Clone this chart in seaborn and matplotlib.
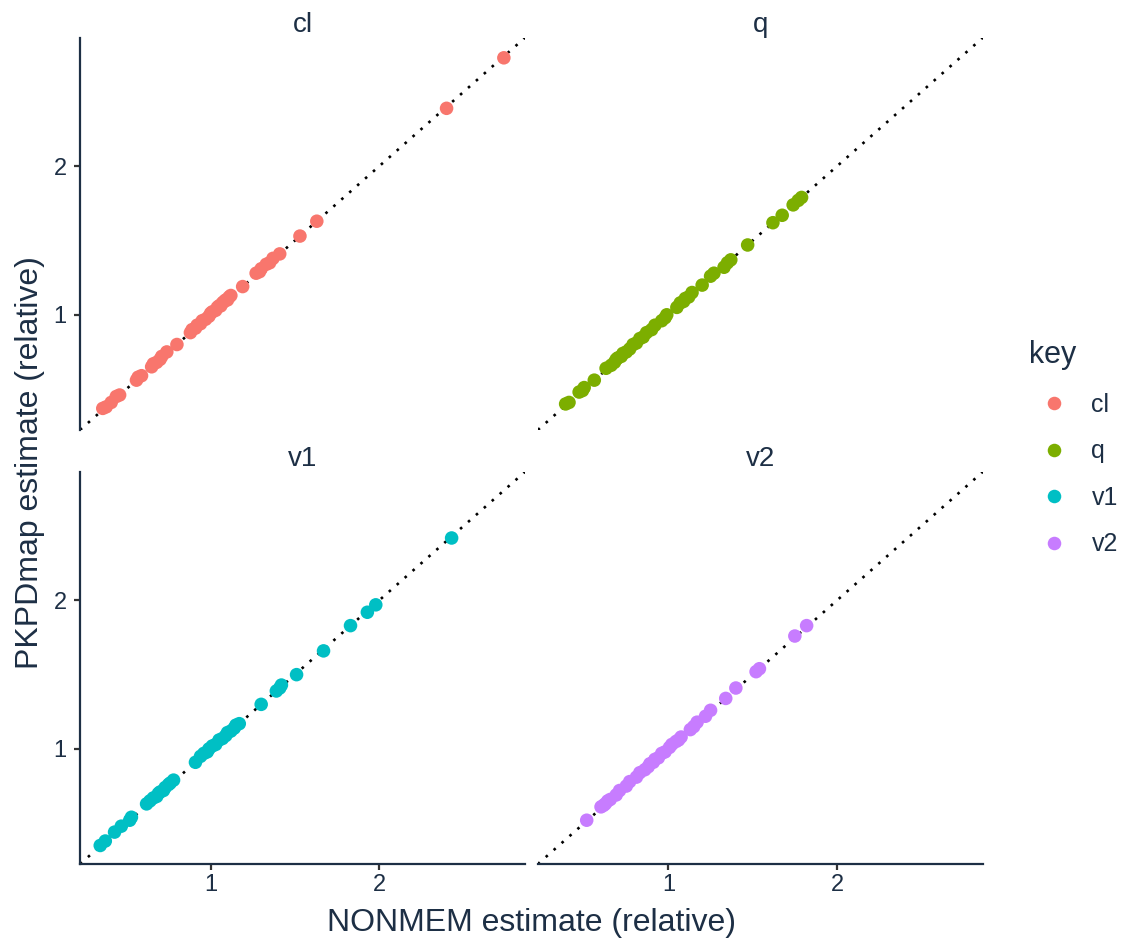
import pandas as pd
import seaborn as sns
import matplotlib.pyplot as plt

# NONMEM vs PKPDmap relative estimates
keys = ['cl', 'q', 'v1', 'v2']
palette = ['#F8766D', '#7CAE00', '#00BFC4', '#C77CFF']

cl_nonmem = [0.36, 0.38, 0.41, 0.44, 0.46, 0.56, 0.57, 0.59, 0.65, 0.66, 0.68, 0.70,
             0.71, 0.74, 0.80, 0.88, 0.89, 0.91, 0.92, 0.94, 0.95, 0.97, 0.99, 1.00,
             1.01, 1.03, 1.04, 1.05, 1.06, 1.07, 1.08, 1.09, 1.10, 1.11, 1.12, 1.19,
             1.27, 1.29, 1.30, 1.33, 1.35, 1.37, 1.41, 1.53, 1.63, 2.40, 2.74]
cl_pkpd = [0.37, 0.38, 0.41, 0.45, 0.46, 0.56, 0.58, 0.59, 0.65, 0.67, 0.68, 0.70,
           0.72, 0.75, 0.80, 0.88, 0.90, 0.91, 0.93, 0.94, 0.96, 0.97, 0.99, 1.01,
           1.02, 1.03, 1.05, 1.06, 1.06, 1.08, 1.09, 1.10, 1.10, 1.12, 1.13, 1.19,
           1.28, 1.29, 1.31, 1.34, 1.35, 1.38, 1.41, 1.53, 1.63, 2.39, 2.73]

q_nonmem = [0.39, 0.41, 0.47, 0.49, 0.50, 0.56, 0.63, 0.66, 0.68, 0.69, 0.70, 0.72,
            0.73, 0.75, 0.77, 0.79, 0.81, 0.83, 0.85, 0.87, 0.90, 0.92, 0.96, 0.98,
            0.99, 1.05, 1.07, 1.09, 1.10, 1.12, 1.14, 1.20, 1.25, 1.27, 1.33, 1.35,
            1.37, 1.47, 1.62, 1.675, 1.74, 1.77, 1.79]
q_pkpd = [0.40, 0.41, 0.48, 0.49, 0.51, 0.56, 0.64, 0.66, 0.68, 0.70, 0.71, 0.72,
          0.74, 0.75, 0.77, 0.80, 0.81, 0.84, 0.85, 0.88, 0.90, 0.93, 0.96, 0.98,
          1.00, 1.05, 1.08, 1.09, 1.11, 1.12, 1.15, 1.20, 1.26, 1.28, 1.32, 1.35,
          1.37, 1.47, 1.62, 1.67, 1.74, 1.77, 1.79]

v1_nonmem = [0.345, 0.375, 0.43, 0.47, 0.52, 0.53, 0.62, 0.64, 0.66, 0.68, 0.69, 0.70,
             0.72, 0.73, 0.75, 0.76, 0.78, 0.91, 0.94, 0.96, 0.98, 0.99, 1.01, 1.03,
             1.05, 1.07, 1.09, 1.10, 1.12, 1.14, 1.15, 1.17, 1.30, 1.39, 1.41, 1.42,
             1.51, 1.67, 1.83, 1.93, 1.98, 2.43]
v1_pkpd = [0.35, 0.38, 0.44, 0.48, 0.52, 0.54, 0.63, 0.65, 0.67, 0.68, 0.70, 0.71,
           0.72, 0.74, 0.76, 0.77, 0.79, 0.91, 0.95, 0.97, 0.98, 1.00, 1.02, 1.03,
           1.06, 1.07, 1.09, 1.11, 1.12, 1.14, 1.16, 1.17, 1.30, 1.39, 1.41, 1.43,
           1.50, 1.66, 1.83, 1.92, 1.97, 2.42]

v2_nonmem = [0.515, 0.60, 0.615, 0.625, 0.64, 0.655, 0.69, 0.71, 0.75, 0.77, 0.81, 0.83,
             0.86, 0.88, 0.89, 0.91, 0.92, 0.94, 0.96, 0.98, 1.006, 1.02, 1.045, 1.06,
             1.075, 1.13, 1.15, 1.17, 1.22, 1.25, 1.34, 1.40, 1.52, 1.54, 1.75, 1.82]
v2_pkpd = [0.52, 0.61, 0.62, 0.63, 0.65, 0.66, 0.69, 0.72, 0.75, 0.78, 0.81, 0.84,
           0.86, 0.88, 0.90, 0.91, 0.93, 0.94, 0.97, 0.98, 1.01, 1.03, 1.05, 1.06,
           1.08, 1.13, 1.15, 1.18, 1.22, 1.26, 1.34, 1.41, 1.52, 1.54, 1.76, 1.83]

nonmem = [cl_nonmem, q_nonmem, v1_nonmem, v2_nonmem]
pkpd = [cl_pkpd, q_pkpd, v1_pkpd, v2_pkpd]
df = pd.concat([pd.DataFrame({'key': k, 'nonmem': x, 'pkpdmap': y})
                for k, x, y in zip(keys, nonmem, pkpd)], ignore_index=True)

navy = '#1d2f45'
sns.set_theme(style='ticks')
plt.rcParams['font.family'] = ['Liberation Sans', 'DejaVu Sans']
plt.rcParams.update({
    'text.color': navy, 'axes.labelcolor': navy,
    'xtick.labelcolor': navy, 'ytick.labelcolor': navy,
    'xtick.color': '#333333', 'ytick.color': '#333333',
    'axes.edgecolor': navy, 'axes.linewidth': 1.6,
    'xtick.major.size': 4.5, 'ytick.major.size': 4.5,
    'xtick.major.width': 1.6, 'ytick.major.width': 1.6,
    'xtick.labelsize': 17, 'ytick.labelsize': 17,
})

g = sns.relplot(data=df, x='nonmem', y='pkpdmap', col='key', col_wrap=2,
                hue='key', hue_order=keys, palette=palette, s=95, linewidth=0,
                height=4, aspect=1, facet_kws={'sharex': True, 'sharey': True})
g.figure.set_size_inches(11.27, 9.44)
g.figure.subplots_adjust(left=0.071, right=0.872, top=0.960, bottom=0.0847,
                         wspace=0.029, hspace=0.107)

g.set(xlim=(0.225, 2.865), ylim=(0.225, 2.865), xticks=[1, 2], yticks=[1, 2])
g.set_axis_labels('', '')
g.set_titles('{col_name}', size=20, pad=1)

axes = g.axes.flat
for ax in axes:
    ax.axline((0, 0), (1, 1), color='black', linestyle=(0, (1, 3)), linewidth=1.9,
              zorder=0.5)
    ax.tick_params(axis='x', pad=3)
    ax.tick_params(axis='y', pad=5)

axes[0].spines['bottom'].set_visible(False)
axes[0].tick_params(bottom=False)
axes[1].spines['bottom'].set_visible(False)
axes[1].spines['left'].set_visible(False)
axes[1].tick_params(bottom=False, left=False)
axes[3].spines['left'].set_visible(False)
axes[3].tick_params(left=False)

g.figure.text(0.472, 0.022, 'NONMEM estimate (relative)', ha='center', va='center', size=23)
g.figure.text(0.027, 0.51, 'PKPDmap estimate (relative)', ha='center', va='center',
              rotation=90, size=23)

sns.move_legend(g, 'center left', bbox_to_anchor=(0.893, 0.525), frameon=False,
                title='key', title_fontsize=22, fontsize=18, alignment='left',
                labelspacing=0.9, handletextpad=0.5)

plt.savefig('out.png', dpi=100)
